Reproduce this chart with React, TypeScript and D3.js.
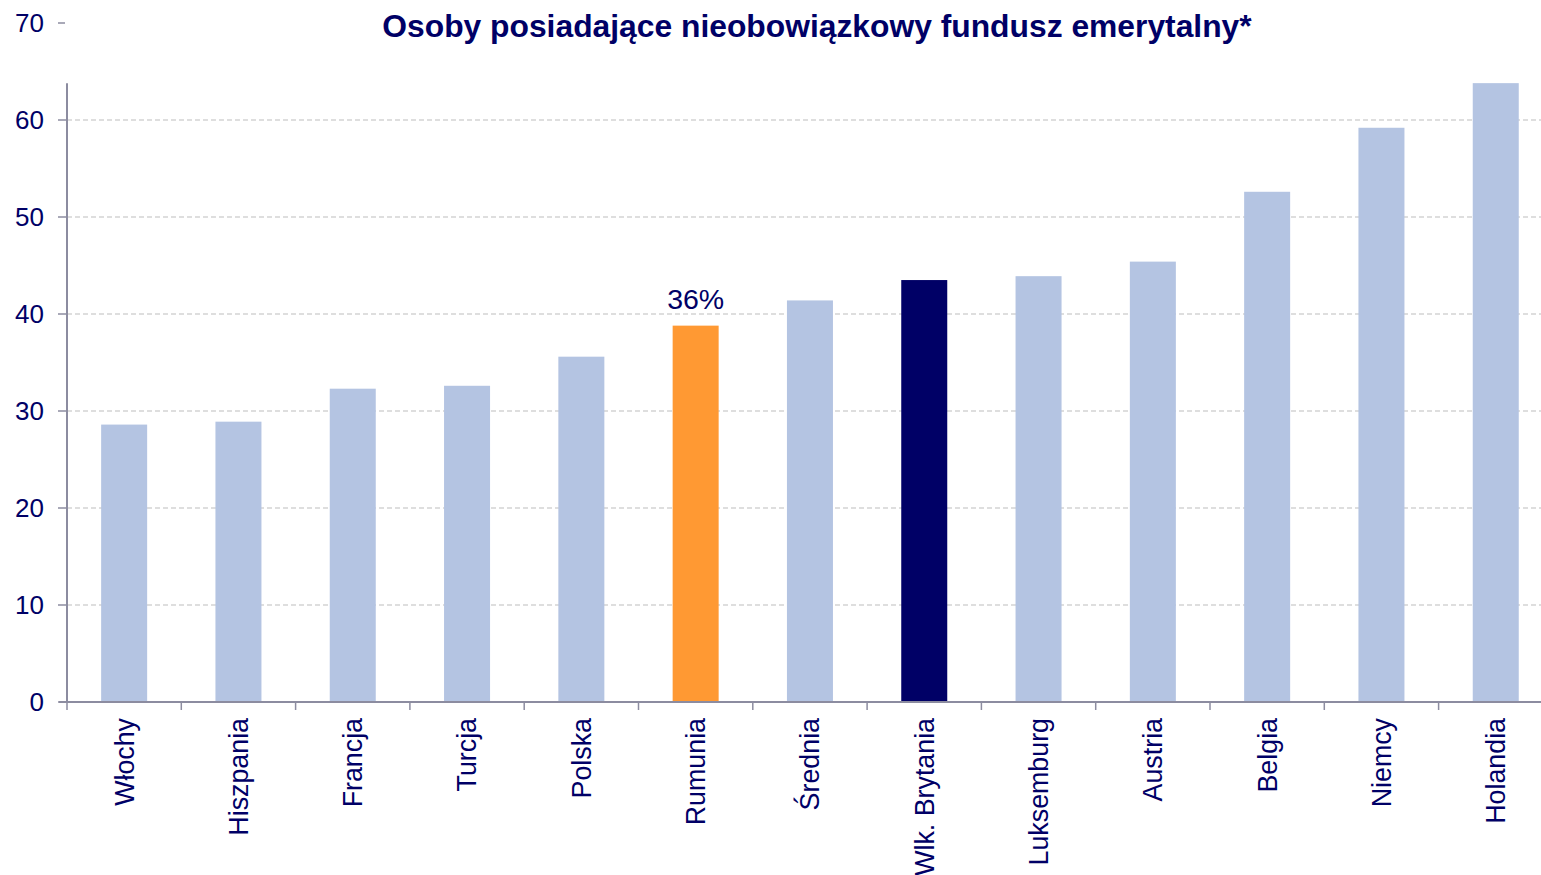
import React from 'react';
import * as d3 from 'd3';

const categories = [
  'Włochy',
  'Hiszpania',
  'Francja',
  'Turcja',
  'Polska',
  'Rumunia',
  'Średnia',
  'Wlk. Brytania',
  'Luksemburg',
  'Austria',
  'Belgia',
  'Niemcy',
  'Holandia',
];
const values = [28.6, 28.9, 32.3, 32.6, 35.6, 38.8, 41.4, 43.5, 43.9, 45.4, 52.6, 59.2, 63.8];
const yTicks = [0, 10, 20, 30, 40, 50, 60, 70];
const highlightLabel = '36%';
const title = 'Osoby posiadające nieobowiązkowy fundusz emerytalny*';

const W = 1541;
const H = 875;
const FONT = '"Liberation Sans", Arial, sans-serif';
const NAVY = '#000066';
const LIGHT = '#b4c4e2';
const ORANGE = '#ff9933';
const AXIS = '#8c8ca0';

const barColor = (c: string) => (c === 'Rumunia' ? ORANGE : c === 'Wlk. Brytania' ? NAVY : LIGHT);

const App: React.FC = () => {
  const left = 67;
  const step = 114.3;
  const x = d3
    .scaleBand<string>()
    .domain(categories)
    .range([left, left + step * categories.length])
    .paddingInner(0)
    .paddingOuter(0);
  const y = d3.scaleLinear().domain([0, 70]).range([702, 23]);
  const barW = 46;
  // plot area top ends at the tallest bar
  const plotTop = y(d3.max(values) ?? 0);

  return (
    <svg
      width={W}
      height={H}
      style={{ position: 'absolute', left: 0, top: 0, background: '#fff' }}
      fontFamily={FONT}
    >
      <text x={817} y={37} textAnchor="middle" fontSize={31.8} fontWeight="bold" fill={NAVY}>
        {title}
      </text>

      {/* grid */}
      {yTicks
        .filter((t) => t > 0 && y(t) >= plotTop)
        .map((t) => (
          <line
            key={'g' + t}
            x1={left}
            x2={W}
            y1={y(t)}
            y2={y(t)}
            stroke="#d4d4d4"
            strokeWidth={1.5}
            strokeDasharray="5,3"
          />
        ))}

      {/* bars */}
      {categories.map((c, i) => (
        <rect
          key={c}
          x={(x(c) ?? 0) + x.bandwidth() / 2 - barW / 2}
          y={y(values[i])}
          width={barW}
          height={y(0) - y(values[i])}
          fill={barColor(c)}
        />
      ))}

      <text
        x={(x('Rumunia') ?? 0) + x.bandwidth() / 2}
        y={y(values[5]) - 17}
        textAnchor="middle"
        fontSize={28.5}
        fill={NAVY}
      >
        {highlightLabel}
      </text>

      {/* y axis */}
      <line x1={left} x2={left} y1={plotTop} y2={y(0)} stroke={AXIS} strokeWidth={2} />
      {yTicks.map((t) => (
        <g key={'y' + t}>
          <line x1={58} x2={t === 70 ? 65 : left} y1={y(t)} y2={y(t)} stroke={AXIS} strokeWidth={1.5} />
          <text x={44} y={y(t)} dy="0.35em" textAnchor="end" fontSize={26} fill={NAVY}>
            {t}
          </text>
        </g>
      ))}

      {/* x axis */}
      <line x1={left - 8} x2={W} y1={y(0)} y2={y(0)} stroke={AXIS} strokeWidth={2} />
      {categories.map((c) => (
        <line
          key={'t' + c}
          x1={x(c) ?? 0}
          x2={x(c) ?? 0}
          y1={y(0)}
          y2={y(0) + 8}
          stroke={AXIS}
          strokeWidth={1.5}
        />
      ))}
      {categories.map((c) => {
        const cx = (x(c) ?? 0) + x.bandwidth() / 2;
        return (
          <text
            key={'l' + c}
            transform={`translate(${cx},718) rotate(-90)`}
            textAnchor="end"
            dy="0.35em"
            fontSize={26.8}
            fill={NAVY}
          >
            {c}
          </text>
        );
      })}
    </svg>
  );
};

export default App;
